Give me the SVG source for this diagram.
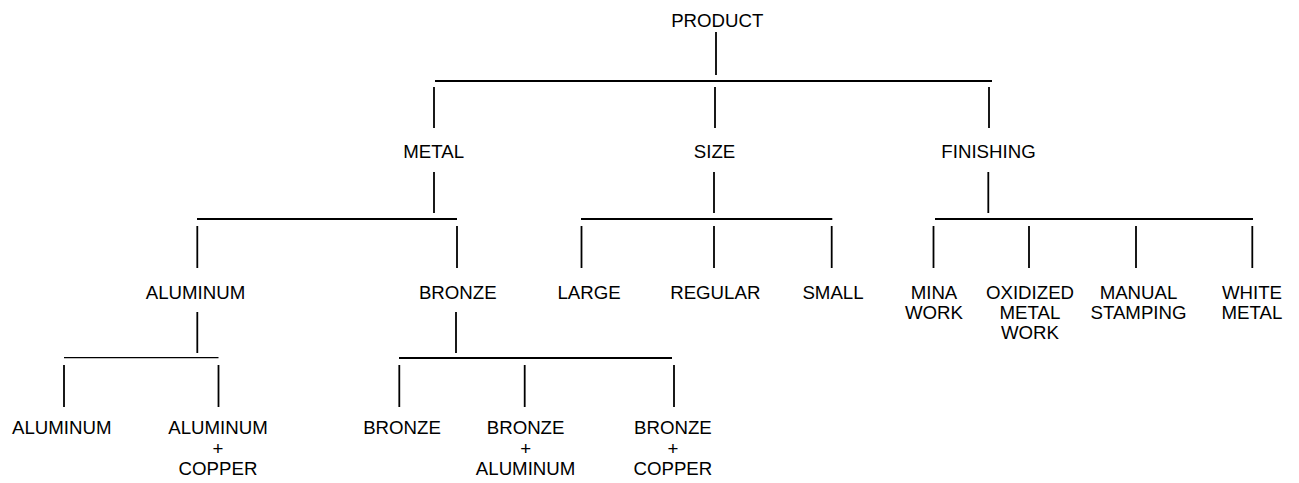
<svg xmlns="http://www.w3.org/2000/svg" width="1299" height="483" viewBox="0 0 1299 483">
<style>
  .bg { fill: #ffffff; }
  text { font-family: "Liberation Sans", Arial, sans-serif; font-size: 18.67px; fill: #000; text-anchor: middle; }
  .ln { stroke: #000; stroke-width: 1.8; fill: none; }
  .thin { stroke: #000; stroke-width: 1.2; fill: none; }
</style>
<rect class="bg" x="0" y="0" width="1299" height="483"/>
<g id="connectors">
  <line class="ln" x1="716" y1="32" x2="716" y2="75"/>
  <line class="ln" x1="435" y1="81" x2="992" y2="81"/>
  <line class="ln" x1="434" y1="87" x2="434" y2="128"/>
  <line class="ln" x1="715" y1="87" x2="715" y2="128"/>
  <line class="ln" x1="989" y1="87" x2="989" y2="128"/>
  <line class="ln" x1="434" y1="172" x2="434" y2="213"/>
  <line class="ln" x1="714" y1="172" x2="714" y2="213"/>
  <line class="ln" x1="988.3" y1="172" x2="988.3" y2="213"/>
  <line class="ln" x1="197" y1="219" x2="457" y2="219"/>
  <line class="ln" x1="581" y1="219" x2="832.3" y2="219"/>
  <line class="ln" x1="935" y1="219" x2="1253" y2="219"/>
  <line class="ln" x1="197.3" y1="226" x2="197.3" y2="268"/>
  <line class="ln" x1="457" y1="226" x2="457" y2="268"/>
  <line class="ln" x1="581.5" y1="226" x2="581.5" y2="268"/>
  <line class="ln" x1="714" y1="226" x2="714" y2="268"/>
  <line class="ln" x1="831.7" y1="226" x2="831.7" y2="268"/>
  <line class="ln" x1="933.5" y1="226" x2="933.5" y2="268"/>
  <line class="ln" x1="1029" y1="226" x2="1029" y2="268"/>
  <line class="ln" x1="1136" y1="226" x2="1136" y2="268"/>
  <line class="ln" x1="1252.3" y1="226" x2="1252.3" y2="268"/>
  <line class="ln" x1="197.3" y1="312" x2="197.3" y2="353"/>
  <line class="ln" x1="456" y1="312" x2="456" y2="353"/>
  <line class="thin" x1="64" y1="357.6" x2="218.5" y2="357.6"/>
  <line class="ln" x1="399" y1="358" x2="672" y2="358"/>
  <line class="ln" x1="64" y1="365" x2="64" y2="407"/>
  <line class="ln" x1="218.5" y1="365" x2="218.5" y2="407"/>
  <line class="ln" x1="399.3" y1="365" x2="399.3" y2="407"/>
  <line class="ln" x1="524.7" y1="365" x2="524.7" y2="407"/>
  <line class="ln" x1="674" y1="365" x2="674" y2="407"/>
</g>
<g id="product"><text x="717.3" y="27.3">PRODUCT</text></g>
<g id="metal"><text x="433.7" y="158.3">METAL</text></g>
<g id="size"><text x="714.5" y="158.3">SIZE</text></g>
<g id="finishing"><text x="988.5" y="158.3">FINISHING</text></g>
<g id="aluminum"><text x="195.5" y="299.3">ALUMINUM</text></g>
<g id="bronze"><text x="457.8" y="299.3">BRONZE</text></g>
<g id="large"><text x="589" y="299.3">LARGE</text></g>
<g id="regular"><text x="715.3" y="299.3">REGULAR</text></g>
<g id="small"><text x="833" y="299.3">SMALL</text></g>
<g id="mina-work"><text x="934" y="299.3">MINA<tspan x="934" dy="19.7">WORK</tspan></text></g>
<g id="oxidized-metal-work"><text x="1030" y="299.3">OXIDIZED<tspan x="1030" dy="19.7">METAL</tspan><tspan x="1030" dy="19.7">WORK</tspan></text></g>
<g id="manual-stamping"><text x="1138.5" y="299.3">MANUAL<tspan x="1138.5" dy="19.7">STAMPING</tspan></text></g>
<g id="white-metal"><text x="1252" y="299.3">WHITE<tspan x="1252" dy="19.7">METAL</tspan></text></g>
<g id="aluminum-pure"><text x="61.7" y="434.3">ALUMINUM</text></g>
<g id="aluminum-copper"><text x="218" y="434.3">ALUMINUM<tspan x="218" dy="20.35">+</tspan><tspan x="218" dy="20.35">COPPER</tspan></text></g>
<g id="bronze-pure"><text x="402" y="434.3">BRONZE</text></g>
<g id="bronze-aluminum"><text x="525.6" y="434.3">BRONZE<tspan x="525.6" dy="20.35">+</tspan><tspan x="525.6" dy="20.35">ALUMINUM</tspan></text></g>
<g id="bronze-copper"><text x="672.9" y="434.3">BRONZE<tspan x="672.9" dy="20.35">+</tspan><tspan x="672.9" dy="20.35">COPPER</tspan></text></g>
</svg>
